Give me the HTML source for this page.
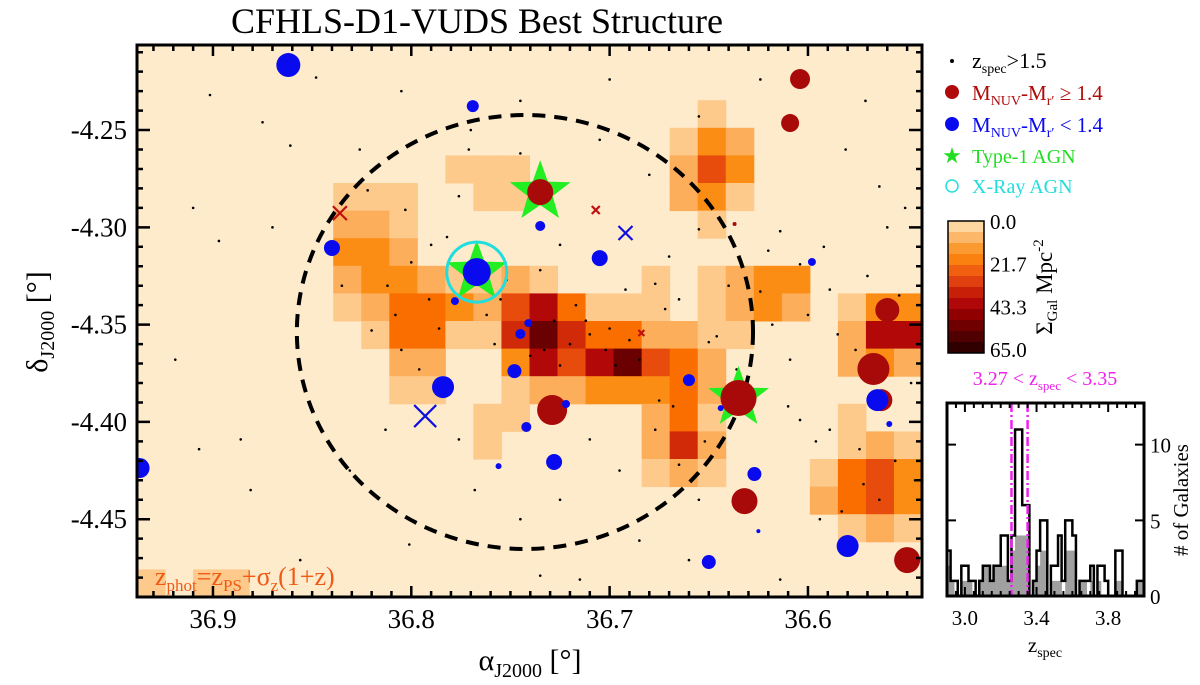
<!DOCTYPE html>
<html><head><meta charset="utf-8"><style>
html,body{margin:0;padding:0;background:#fff;}
svg{display:block;}
svg text{font-family:"Liberation Serif","Times New Roman",serif;}
</style></head><body>
<svg id="chart" width="1200" height="685" viewBox="0 0 1200 685" xmlns="http://www.w3.org/2000/svg" font-family="Liberation Serif, serif">
<defs><clipPath id="plotclip"><rect x="137" y="45" width="785" height="552"/></clipPath></defs>
<text x="477" y="33" font-size="36" text-anchor="middle" font-family="Liberation Serif, serif">CFHLS-D1-VUDS Best Structure</text>
<g id="main"></g>
<g id="legend" font-family="Liberation Serif, serif">
  <circle cx="952" cy="61" r="2" fill="#000"/>
  <text x="972" y="68" font-size="22">z<tspan font-size="14" dy="5">spec</tspan><tspan dy="-5">&gt;1.5</tspan></text>
  <circle cx="952" cy="92" r="7" fill="#b00a0a"/>
  <text x="972" y="100" font-size="21" fill="#b00a0a">M<tspan font-size="14" dy="5">NUV</tspan><tspan dy="-5">-M</tspan><tspan font-size="14" dy="5">r′</tspan><tspan dy="-5"> ≥ 1.4</tspan></text>
  <circle cx="952" cy="124" r="7" fill="#0a0aee"/>
  <text x="972" y="132" font-size="21" fill="#0a0aee">M<tspan font-size="14" dy="5">NUV</tspan><tspan dy="-5">-M</tspan><tspan font-size="14" dy="5">r′</tspan><tspan dy="-5"> &lt; 1.4</tspan></text>
  <text x="952" y="163" font-size="22" fill="#22dd22" text-anchor="middle">★</text>
  <text x="972" y="163" font-size="20" fill="#22dd22">Type-1 AGN</text>
  <circle cx="952" cy="186" r="6" fill="none" stroke="#22dddd" stroke-width="1.5"/>
  <text x="972" y="193" font-size="20" fill="#22dddd">X-Ray AGN</text>
</g>
<g id="cbar" font-family="Liberation Serif, serif"></g>
<g id="hist" font-family="Liberation Serif, serif"></g>
</svg>
<script>
// ---- main map data ----
const raTicks = [36.9, 36.8, 36.7, 36.6];
const raTickLabels = ["36.9", "36.8", "36.7", "36.6"];
const decTicks = [-4.25, -4.30, -4.35, -4.40, -4.45];
const decTickLabels = ["-4.25", "-4.30", "-4.35", "-4.40", "-4.45"];
const densityLevels = [
"0000000000000000000000000000",
"0000000000000000000000000000",
"0000000000000000000010000000",
"0000000000000000000132000000",
"0000000000011100000253000000",
"0000000111001100000231000000",
"0000000221000000000010000000",
"0000000332000000000000000000",
"0000000233211210001012330000",
"0000000124432574111012320133",
"0000000014411686442211000277",
"0000000002200375785420000232",
"0000000001100122333420000000",
"0000000000001100002410000100",
"0000000000001000002620000121",
"0000000000000000001210001453",
"0000000000000000000000002453",
"0000000000000000000000000121",
"0000000000000000000000000000",
"1011000000000000000000000000"];
const blueRA  = [36.862,36.769,36.840,36.767,36.735,36.705,36.778,36.741,36.745,36.748,36.784,36.722,36.742,36.660,36.756,36.728,36.644,36.598,36.565,36.559,36.937,36.627,36.625,36.650,36.580];
const blueDec = [-4.2166,-4.2377,-4.3106,-4.3230,-4.2993,-4.3158,-4.3379,-4.3492,-4.3548,-4.3739,-4.3821,-4.3908,-4.4026,-4.3785,-4.4227,-4.4206,-4.3929,-4.3178,-4.3888,-4.4011,-4.4237,-4.4268,-4.4561,-4.4720,-4.4638];
const blueSize = [12,6,8,14,5,8,4,4,5,7,11,4,5,6,3,8,3,4,11,3,10,7,2,7,11];
const redRA  = [36.604,36.609,36.735,36.729,36.635,36.632,36.560,36.567,36.550,36.563,36.637];
const redDec = [-4.2238,-4.2464,-4.2819,-4.3939,-4.3877,-4.4407,-4.3425,-4.3728,-4.4710,-4.3888,-4.2983];
const redSize = [10,9,13,15,18,13,12,16,13,11,2];
const crossRA  = [36.836,36.707,36.684,36.793,36.692];
const crossDec = [-4.2927,-4.2911,-4.3543,-4.3970,-4.3029];
const crossColor = ["#c01010","#c01010","#c01010","#1010dd","#1010dd"];
const crossSize = [7,4,3,11,7];
const agnRA  = [36.735,36.767,36.635];
const agnDec = [-4.2819,-4.3230,-4.3877];
const xrayRA = [36.767];
const xrayDec = [-4.3230];
const dotRA = [36.9015,36.875,36.861,36.848,36.822,36.803,36.790,36.776,36.771,36.760,36.752,36.745,36.735,36.725,36.717,36.710,36.702,36.697,36.692,36.677,36.670,36.665,36.655,36.650,36.636,36.624,36.614,36.604,36.589,36.576,36.554,36.564,36.581,36.571,36.655,36.680,36.820,36.805,36.796,36.813,36.831,36.856,36.881,36.907,36.919,36.897,36.776,36.768,36.745,36.725,36.710,36.695,36.677,36.665,36.655,36.660,36.685,36.715,36.735,36.609,36.604,36.589,36.574,36.564,36.546,36.594,36.614,36.801,36.886,36.826,36.705,36.624,36.791,36.755,36.733,36.725,36.685,36.675,
36.812,36.808,36.800,36.786,36.782,36.762,36.758,36.740,36.728,36.720,36.712,36.700,36.690,36.672,36.668,36.652,36.646,36.640,36.620,36.600,36.592,36.585,36.570,36.560,36.551,36.548,36.556,36.572,36.583,36.596,36.610,36.618,36.700,36.745,36.770,36.805,36.835,36.910,36.870,36.790];
const dotDec = [-4.232,-4.246,-4.258,-4.223,-4.281,-4.291,-4.309,-4.284,-4.260,-4.319,-4.327,-4.235,-4.322,-4.309,-4.340,-4.355,-4.363,-4.371,-4.332,-4.329,-4.315,-4.337,-4.301,-4.359,-4.373,-4.333,-4.302,-4.319,-4.332,-4.363,-4.335,-4.279,-4.260,-4.235,-4.243,-4.273,-4.353,-4.363,-4.373,-4.404,-4.425,-4.471,-4.435,-4.414,-4.368,-4.307,-4.409,-4.435,-4.450,-4.440,-4.409,-4.425,-4.404,-4.422,-4.440,-4.471,-4.461,-4.481,-4.479,-4.368,-4.399,-4.404,-4.414,-4.440,-4.430,-4.450,-4.481,-4.463,-4.409,-4.260,-4.255,-4.224,-4.337,-4.337,-4.363,-4.371,-4.368,-4.389,
-4.330,-4.345,-4.318,-4.352,-4.305,-4.345,-4.360,-4.366,-4.348,-4.360,-4.348,-4.352,-4.358,-4.342,-4.392,-4.410,-4.356,-4.330,-4.312,-4.345,-4.310,-4.355,-4.325,-4.300,-4.290,-4.380,-4.420,-4.432,-4.446,-4.410,-4.392,-4.350,-4.224,-4.262,-4.250,-4.230,-4.330,-4.290,-4.300,-4.455];
const ellipseCenter = [36.7427, -4.3538];
const ellipseRadius = [0.1150, 0.1115];

// ---- histogram data ----
const histStart = 2.90, histBin = 0.02;
const histAll  = [3,1,1,0,2,2,1,1,0,1,2,2,1,2,2,4,4,1,4,11,11,6,6,0,1,3,5,5,0,2,2,4,1,5,5,4,0,1,1,1,2,0,2,2,1,0,0,3,3,0,0,0,0,1,1];
const histGray = [2,1,0,0,1,1,1,0,0,1,2,2,1,2,2,2,2,1,3,4,4,4,4,0,1,2,3,3,0,1,1,1,0,3,3,3,0,1,1,0,1,0,1,0,0,0,0,1,1,0,0,0,0,1,1];
const histXTicks = [3.0, 3.4, 3.8];
const histXLabels = ["3.0","3.4","3.8"];
const histYTicks = [0, 5, 10];
const histYLabels = ["0","5","10"];
const zCuts = [3.26, 3.35];
const cbarLabels = ["0.0","21.7","43.3","65.0"];

const NS = "http://www.w3.org/2000/svg";
function mk(tag, attrs, parent){const e=document.createElementNS(NS,tag);for(const k in attrs)e.setAttribute(k,attrs[k]);parent.appendChild(e);return e;}

const L=137,R=922,T=45,B=597;
const raL=36.9383, raR=36.5425, decT=-4.2063, decB=-4.48998;
const X = ra => L + (raL-ra)/(raL-raR)*(R-L);
const Y = d => T + (decT-d)/(decT-decB)*(B-T);
const main = document.getElementById('main');
const plot = mk('g',{'clip-path':'url(#plotclip)'},main);
mk('rect',{x:L,y:T,width:R-L,height:B-T,fill:'#fdebcc'},plot);
const levelColor=['#fdebcc','#fdca8c','#fcae5a','#fb8c14','#fa6e00','#e84c0c','#d02a08','#b20808','#6a0000'];
const nR=densityLevels.length, nC=densityLevels[0].length;
const cRA=(raL-raR)/nC, cDec=(decT-decB)/nR;
for(let r=0;r<nR;r++)for(let c=0;c<nC;c++){
  const v=+densityLevels[r][c]; if(!v)continue;
  const x0=X(raL-c*cRA), x1=X(raL-(c+1)*cRA), y0=Y(decT-r*cDec), y1=Y(decT-(r+1)*cDec);
  const e=mk('rect',{x:x0,y:y0,width:x1-x0+0.5,height:y1-y0+0.5,fill:levelColor[v]},plot);
  
  
}
dotRA.forEach((ra,i)=>{const e=mk('circle',{cx:X(ra),cy:Y(dotDec[i]),r:1.3,fill:'#000'},plot);
  
  });
const el=mk('ellipse',{cx:X(ellipseCenter[0]),cy:Y(ellipseCenter[1]),rx:X(ellipseCenter[0]-ellipseRadius[0])-X(ellipseCenter[0]),ry:Y(ellipseCenter[1]-ellipseRadius[1])-Y(ellipseCenter[1]),fill:'none',stroke:'#000','stroke-width':4,'stroke-dasharray':'13 9'},plot);


function star(cx,cy,Ro,Ri){let p=[];for(let k=0;k<10;k++){const a=-Math.PI/2+k*Math.PI/5,rr=k%2?Ri:Ro;p.push((cx+rr*Math.cos(a)).toFixed(1)+','+(cy+rr*Math.sin(a)).toFixed(1));}return p.join(' ');}
agnRA.forEach((ra,i)=>{const e=mk('polygon',{points:star(X(ra),Y(agnDec[i]),32,13),fill:'#22ee22'},plot);
  
  });
xrayRA.forEach((ra,i)=>{const e=mk('circle',{cx:X(ra),cy:Y(xrayDec[i]),r:30,fill:'none',stroke:'#22dddd','stroke-width':3},plot);
  
  });
redRA.forEach((ra,i)=>{const e=mk('circle',{cx:X(ra),cy:Y(redDec[i]),r:redSize[i],fill:'#a80a0a'},plot);
  
  });
blueRA.forEach((ra,i)=>{const e=mk('circle',{cx:X(ra),cy:Y(blueDec[i]),r:blueSize[i],fill:'#0a0aee'},plot);
  
  });
crossRA.forEach((ra,i)=>{const x=X(ra),y=Y(crossDec[i]),s=crossSize[i];
  const e=mk('path',{d:`M${x-s},${y-s}L${x+s},${y+s}M${x-s},${y+s}L${x+s},${y-s}`,stroke:crossColor[i],'stroke-width':2.2,fill:'none'},plot);
  
  });
const zt=mk('text',{x:155,y:585,'font-size':26,fill:'#f05a14','font-family':'Liberation Serif, serif'},main);


zt.innerHTML='z<tspan font-size="17" dy="6">phot</tspan><tspan dy="-6">=z</tspan><tspan font-size="17" dy="6">PS</tspan><tspan dy="-6">+σ</tspan><tspan font-size="17" dy="6">z</tspan><tspan dy="-6">(1+z)</tspan>';
let tk='';
for(let v=36.94;v>=36.54;v-=0.01){const x=X(+v.toFixed(2));if(x<L||x>R)continue;const maj=Math.abs(Math.round(v*100)%10)===0;const l=maj?11:6;tk+=`M${x},${B}V${B-l}M${x},${T}V${T+l}`;}
for(let v=-4.21;v>=-4.49;v-=0.01){const y=Y(+v.toFixed(2));if(y<T||y>B)continue;const maj=Math.abs(Math.round(v*100)%5)===0;const l=maj?13:6;tk+=`M${L},${y}H${L+l}M${R},${y}H${R-l}`;}
const tp=mk('path',{d:tk,stroke:'#000','stroke-width':2.5,fill:'none'},main);


const fr=mk('rect',{x:L,y:T,width:R-L,height:B-T,fill:'none',stroke:'#000','stroke-width':3},main);


raTicks.forEach((v,i)=>{const t=mk('text',{x:X(v),y:628,'font-size':27,'text-anchor':'middle','font-family':'Liberation Serif, serif'},main);t.textContent=raTickLabels[i];
  
  });
decTicks.forEach((v,i)=>{const t=mk('text',{x:127,y:Y(v)+9,'font-size':27,'text-anchor':'end','font-family':'Liberation Serif, serif'},main);t.textContent=decTickLabels[i];
  
  });
const xl=mk('text',{x:530,y:670,'font-size':30,'text-anchor':'middle','font-family':'Liberation Serif, serif'},main);


xl.innerHTML='α<tspan font-size="20" dy="7">J2000</tspan><tspan dy="-7"> [°]</tspan>';
const yl=mk('text',{x:0,y:0,'font-size':30,'text-anchor':'middle','font-family':'Liberation Serif, serif',transform:'translate(47,322) rotate(-90)'},main);


yl.innerHTML='δ<tspan font-size="20" dy="7">J2000</tspan><tspan dy="-7"> [°]</tspan>';

const cb=document.getElementById('cbar');
const cbCols=['#fdd6a0','#fcb868','#fb9a30','#fa8010','#f06010','#e04010','#c82008','#b00808','#900000','#700000','#500000','#300000'];
const cbT=221,cbB=353,cbL=948,cbR=984;
cbCols.forEach((c,i)=>{const h=(cbB-cbT)/cbCols.length;const e=mk('rect',{x:cbL,y:cbT+i*h,width:cbR-cbL,height:h+0.5,fill:c},cb);
  
  });
mk('rect',{x:cbL,y:cbT,width:cbR-cbL,height:cbB-cbT,fill:'none',stroke:'#000','stroke-width':1.5},cb);
cbarLabels.forEach((s,i)=>{const t=mk('text',{x:990,y:cbT+8+i*(cbB-cbT-4)/3,'font-size':21},cb);t.textContent=s;
  
  });
const ct=mk('text',{x:0,y:0,'font-size':23,'text-anchor':'middle',transform:'translate(1052,287) rotate(-90)'},cb);


ct.innerHTML='Σ<tspan font-size="15" dy="5">Gal</tspan><tspan dy="-5"> Mpc</tspan><tspan font-size="15" dy="-9">-2</tspan>';

const hg=document.getElementById('hist');
const hL=947,hR=1144,hT=403,hB=596,zL=2.90,zR=4.00,cMax=12.75;
const HX=z=>hL+(z-zL)/(zR-zL)*(hR-hL);
const HY=c=>hB-c/cMax*(hB-hT);
histGray.forEach((c,i)=>{if(!c)return;const x0=HX(histStart+i*histBin),x1=HX(histStart+(i+1)*histBin);
  const e=mk('rect',{x:x0,y:HY(c),width:x1-x0+0.3,height:hB-HY(c),fill:'#a0a0a0'},hg);
  
  });
let d=`M${HX(histStart)},${HY(0)}`;
histAll.forEach((c,i)=>{d+=`V${HY(c)}H${HX(histStart+(i+1)*histBin)}`;});
d+=`V${HY(0)}`;
const hp=mk('path',{d:d,fill:'none',stroke:'#000','stroke-width':2.5},hg);


zCuts.forEach(z=>{const e=mk('line',{x1:HX(z),x2:HX(z),y1:hT,y2:hB,stroke:'#ee22ee','stroke-width':2.5,'stroke-dasharray':'9 3 2 3'},hg);
  
  });
let ht='';
for(let k=0;k<=22;k++){const z=zL+k*0.05;const x=HX(z);const maj=[3.0,3.4,3.8].some(m=>Math.abs(m-z)<1e-6);const l=maj?9:5;ht+=`M${x},${hT}V${hT+l}M${x},${hB}V${hB-l}`;}
histYTicks.forEach(c=>{ht+=`M${hL},${HY(c)}H${hL+9}M${hR},${HY(c)}H${hR-9}`;});
mk('path',{d:ht,stroke:'#000','stroke-width':2,fill:'none'},hg);
const hf=mk('rect',{x:hL,y:hT,width:hR-hL,height:hB-hT,fill:'none',stroke:'#000','stroke-width':3},hg);


histXTicks.forEach((v,i)=>{const t=mk('text',{x:HX(v),y:625,'font-size':21,'text-anchor':'middle'},hg);t.textContent=histXLabels[i];
  
  });
histYTicks.forEach((v,i)=>{const t=mk('text',{x:1150,y:HY(v)+8,'font-size':21},hg);t.textContent=histYLabels[i];
  
  });
const hxl=mk('text',{x:1045,y:652,'font-size':21,'text-anchor':'middle'},hg);


hxl.innerHTML='z<tspan font-size="14" dy="5">spec</tspan>';
const hyl=mk('text',{x:0,y:0,'font-size':21,'text-anchor':'middle',transform:'translate(1188,500) rotate(-90)'},hg);


hyl.textContent='# of Galaxies';
const htl=mk('text',{x:1045,y:385,'font-size':20,'text-anchor':'middle',fill:'#ee22ee'},hg);


htl.innerHTML='3.27 &lt; z<tspan font-size="13" dy="5">spec</tspan><tspan dy="-5"> &lt; 3.35</tspan>';
</script>
</body></html>
